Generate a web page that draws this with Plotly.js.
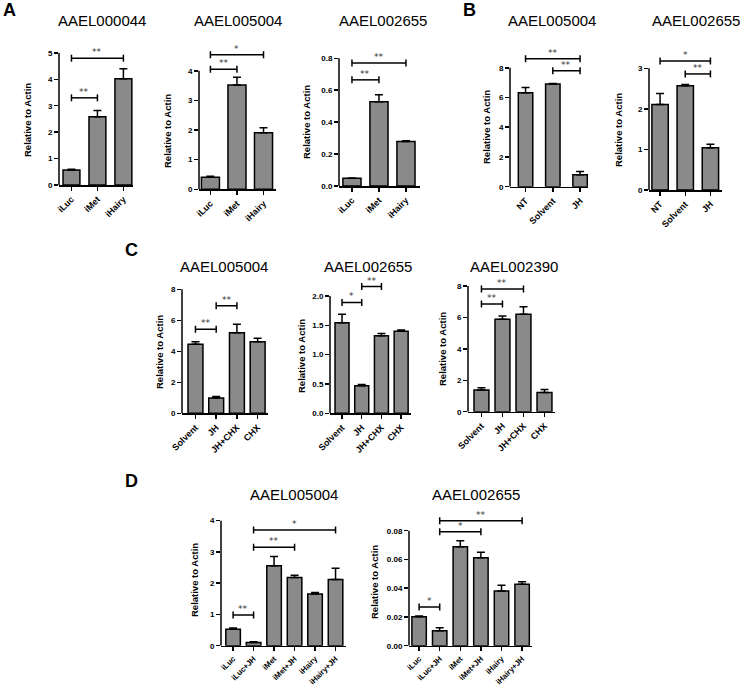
<!DOCTYPE html>
<html><head><meta charset="utf-8">
<script src="https://cdn.plot.ly/plotly-3.0.1.min.js"></script>
<style>html,body{margin:0;padding:0;background:#fff}</style>
</head><body><div id="chart" style="width:740px;height:687px"></div>
<script>
// ---------- data ----------
const catsA = ['iLuc', 'iMet', 'iHairy'];
const a1Vals = [0.57, 2.58, 4.02];
const a1Err  = [0.03, 0.24, 0.38];
const a1Sig  = [{from:'iLuc', to:'iMet', y:3.3, label:'**'}, {from:'iLuc', to:'iHairy', y:4.8, label:'**'}];
const a2Vals = [0.41, 3.52, 1.91];
const a2Err  = [0.03, 0.26, 0.17];
const a2Sig  = [{from:'iLuc', to:'iMet', y:4.05, label:'**'}, {from:'iLuc', to:'iHairy', y:4.54, label:'*'}];
const a3Vals = [0.048, 0.528, 0.278];
const a3Err  = [0.002, 0.044, 0.006];
const a3Sig  = [{from:'iLuc', to:'iMet', y:0.665, label:'**'}, {from:'iLuc', to:'iHairy', y:0.77, label:'**'}];

const catsB = ['NT', 'Solvent', 'JH'];
const b1Vals = [6.32, 6.9, 0.8];
const b1Err  = [0.36, 0.05, 0.22];
const b1Sig  = [{from:'NT', to:'JH', y:8.6, label:'**'}, {from:'Solvent', to:'JH', y:7.8, label:'**'}];
const b2Vals = [2.11, 2.57, 1.04];
const b2Err  = [0.27, 0.03, 0.09];
const b2Sig  = [{from:'NT', to:'JH', y:3.18, label:'*'}, {from:'Solvent', to:'JH', y:2.86, label:'**'}];

const catsC = ['Solvent', 'JH', 'JH+CHX', 'CHX'];
const c1Vals = [4.45, 0.99, 5.2, 4.62];
const c1Err  = [0.17, 0.1, 0.54, 0.22];
const c1Sig  = [{from:'Solvent', to:'JH', y:5.42, label:'**'}, {from:'JH', to:'JH+CHX', y:6.94, label:'**'}];
const c2Vals = [1.545, 0.47, 1.32, 1.40];
const c2Err  = [0.145, 0.02, 0.04, 0.02];
const c2Sig  = [{from:'Solvent', to:'JH', y:1.89, label:'*'}, {from:'JH', to:'JH+CHX', y:2.16, label:'**'}];
const c3Vals = [1.38, 5.88, 6.2, 1.23];
const c3Err  = [0.15, 0.21, 0.48, 0.19];
const c3Sig  = [{from:'Solvent', to:'JH', y:6.86, label:'**'}, {from:'Solvent', to:'JH+CHX', y:7.81, label:'**'}];

const catsD = ['iLuc', 'iLuc+JH', 'iMet', 'iMet+JH', 'iHairy', 'iHairy+JH'];
const d1Vals = [0.53, 0.1, 2.56, 2.18, 1.65, 2.12];
const d1Err  = [0.04, 0.03, 0.29, 0.07, 0.05, 0.36];
const d1Sig  = [{from:'iLuc', to:'iLuc+JH', y:0.98, label:'**'}, {from:'iLuc+JH', to:'iMet+JH', y:3.15, label:'**'}, {from:'iLuc+JH', to:'iHairy+JH', y:3.7, label:'*'}];
const d2Vals = [0.0202, 0.0104, 0.0689, 0.0612, 0.038, 0.0427];
const d2Err  = [0.0005, 0.0021, 0.0041, 0.0038, 0.004, 0.0018];
const d2Sig  = [{from:'iLuc', to:'iLuc+JH', y:0.027, label:'*'}, {from:'iLuc+JH', to:'iMet+JH', y:0.0793, label:'*'}, {from:'iLuc+JH', to:'iHairy+JH', y:0.087, label:'**'}];

const yTitle = 'Relative to Actin';
const panelLetters = [{t:'A', x:9, y:10}, {t:'B', x:469, y:10}, {t:'C', x:131, y:250}, {t:'D', x:131, y:481}];

// ---------- layout geometry (pixels) ----------
const W = 740, H = 687;
const FONT = 'Liberation Sans, Arial, Helvetica, sans-serif';
const STARFONT = 'DejaVu Sans, sans-serif';
const panels = [
  {cats:catsA, vals:a1Vals, err:a1Err, sig:a1Sig, name:'AAEL000044', g:{l:59,  r:133, b:185,   t:50,  yTop:5.11,   xr:[-0.48,2.37], bw:0.65, ticks:[0,1,2,3,4,5], fmt:'',    tt:[102,21],  yt:[28,120], xf:9}},
  {cats:catsA, vals:a2Vals, err:a2Err, sig:a2Sig, name:'AAEL005004', g:{l:199, r:276, b:189.3, t:48,  yTop:4.77,   xr:[-0.43,2.47], bw:0.68, ticks:[0,1,2,3,4],   fmt:'',    tt:[238,21],  yt:[168,131], xf:9}},
  {cats:catsA, vals:a3Vals, err:a3Err, sig:a3Sig, name:'AAEL002655', g:{l:339, r:420, b:186,   t:50,  yTop:0.852,  xr:[-0.48,2.52], bw:0.67, ticks:[0,0.2,0.4,0.6,0.8], fmt:'.1f', tt:[383,21], yt:[306,122], xf:9}},
  {cats:catsB, vals:b1Vals, err:b1Err, sig:b1Sig, name:'AAEL005004', g:{l:510, r:588, b:186.7, t:48,  yTop:9.33,   xr:[-0.57,2.29], bw:0.53, ticks:[0,2,4,6,8],   fmt:'',    tt:[552,21],  yt:[486,127], xf:9}},
  {cats:catsB, vals:b2Vals, err:b2Err, sig:b2Sig, name:'AAEL002655', g:{l:649, r:722, b:190,   t:50,  yTop:3.45,   xr:[-0.44,2.46], bw:0.65, ticks:[0,1,2,3],     fmt:'',    tt:[695.5,21],yt:[618,130], xf:9}},
  {cats:catsC, vals:c1Vals, err:c1Err, sig:c1Sig, name:'AAEL005004', g:{l:182, r:268, b:413.3, t:286, yTop:8.21,   xr:[-0.65,3.5],  bw:0.72, ticks:[0,2,4,6,8],   fmt:'',    tt:[223.5,266], yt:[159,352], xf:9}},
  {cats:catsC, vals:c2Vals, err:c2Err, sig:c2Sig, name:'AAEL002655', g:{l:330, r:411, b:413.3, t:276, yTop:2.34,   xr:[-0.61,3.5],  bw:0.71, ticks:[0,0.5,1,1.5,2], fmt:'.1f', tt:[367.5,266], yt:[302,356], xf:9}},
  {cats:catsC, vals:c3Vals, err:c3Err, sig:c3Sig, name:'AAEL002390', g:{l:468, r:555, b:411.7, t:276, yTop:8.64,   xr:[-0.64,3.5],  bw:0.71, ticks:[0,2,4,6,8],   fmt:'',    tt:[513.5,266], yt:[442,349], xf:9}},
  {cats:catsD, vals:d1Vals, err:d1Err, sig:d1Sig, name:'AAEL005004', g:{l:221, r:346, b:645.7, t:515, yTop:4.18,   xr:[-0.59,5.51], bw:0.71, ticks:[0,1,2,3,4],   fmt:'',    tt:[294,494], yt:[194,580], xf:7.8}},
  {cats:catsD, vals:d2Vals, err:d2Err, sig:d2Sig, name:'AAEL002655', g:{l:409, r:532, b:645.7, t:508, yTop:0.0958, xr:[-0.49,5.48], bw:0.70, ticks:[0,0.02,0.04,0.06,0.08], fmt:'.2f', tt:[476,494], yt:[374,582], xf:7.8}}
];

const data = [], shapes = [], annotations = [];
const layout = {width:W, height:H, margin:{l:0,r:0,t:0,b:0}, paper_bgcolor:'#fff', plot_bgcolor:'rgba(0,0,0,0)', showlegend:false, font:{family:FONT, color:'#000'}};
const lineStyle = {color:'#000', width:1.5};

panels.forEach((p, i) => {
  const n = i + 1, sfx = n > 1 ? n : '';
  const xa = 'x' + sfx, ya = 'y' + sfx;
  const g = p.g;
  data.push({
    type:'bar', x:p.cats, y:p.vals, xaxis:xa, yaxis:ya, width:g.bw,
    marker:{color:'#8a8a8a', line:{color:'#000', width:1.5}},
    error_y:{type:'data', symmetric:false, array:p.err, arrayminus:p.err.map(() => 0), color:'#000', thickness:1.5, width:4},
    hoverinfo:'none'
  });
  layout['xaxis' + sfx] = {
    domain:[g.l / W, g.r / W], anchor:ya, type:'category', range:g.xr,
    showline:true, linewidth:1.5, linecolor:'#000', ticks:'outside', ticklen:4, tickwidth:1.5, tickcolor:'#000',
    tickangle:-45, tickfont:{family:FONT, size:g.xf, weight:700, color:'#000'}, showgrid:false, zeroline:false, fixedrange:true
  };
  layout['yaxis' + sfx] = {
    domain:[1 - g.b / H, 1 - g.t / H], anchor:xa, range:[0, g.yTop], tickmode:'array', tickvals:g.ticks, tickformat:g.fmt,
    showline:false, ticks:'outside', ticklen:4, tickwidth:1.5, tickcolor:'#000',
    tickfont:{family:FONT, size:8, weight:700, color:'#000'}, showgrid:false, zeroline:false, fixedrange:true
  };
  // y-axis line stopping at the top tick (GraphPad style)
  shapes.push({type:'line', xref:xa + ' domain', yref:ya, x0:0, x1:0, y0:0, y1:g.ticks[g.ticks.length - 1], line:lineStyle, layer:'above'});
  // significance brackets
  p.sig.forEach(s => {
    const a = p.cats.indexOf(s.from), b = p.cats.indexOf(s.to);
    shapes.push({type:'line', xref:xa, yref:ya, x0:a, x1:b, y0:s.y, y1:s.y, line:lineStyle});
    [a, b].forEach(c => shapes.push({type:'line', xref:xa, yref:ya, x0:c, x1:c, ysizemode:'pixel', yanchor:s.y, y0:-3.5, y1:3.5, line:lineStyle}));
    annotations.push({xref:xa, yref:ya, x:(a + b) / 2, y:s.y, text:s.label, showarrow:false, yanchor:'bottom', yshift:-1,
      font:{family:STARFONT, size:9, color:'#333'}});
  });
  // panel title
  annotations.push({xref:'paper', yref:'paper', x:g.tt[0] / W, y:1 - g.tt[1] / H, text:p.name, showarrow:false,
    xanchor:'center', yanchor:'middle', font:{family:FONT, size:15, color:'#000'}});
  // y-axis title
  annotations.push({xref:'paper', yref:'paper', x:g.yt[0] / W, y:1 - g.yt[1] / H, text:yTitle, showarrow:false, textangle:-90,
    xanchor:'center', yanchor:'middle', font:{family:FONT, size:9.5, weight:700, color:'#000'}});
});

panelLetters.forEach(L => annotations.push({xref:'paper', yref:'paper', x:L.x / W, y:1 - L.y / H, text:L.t, showarrow:false,
  xanchor:'center', yanchor:'middle', font:{family:FONT, size:18, weight:700, color:'#000'}}));

layout.shapes = shapes;
layout.annotations = annotations;
Plotly.newPlot('chart', data, layout, {displayModeBar:false, staticPlot:true});
</script>
</body></html>
